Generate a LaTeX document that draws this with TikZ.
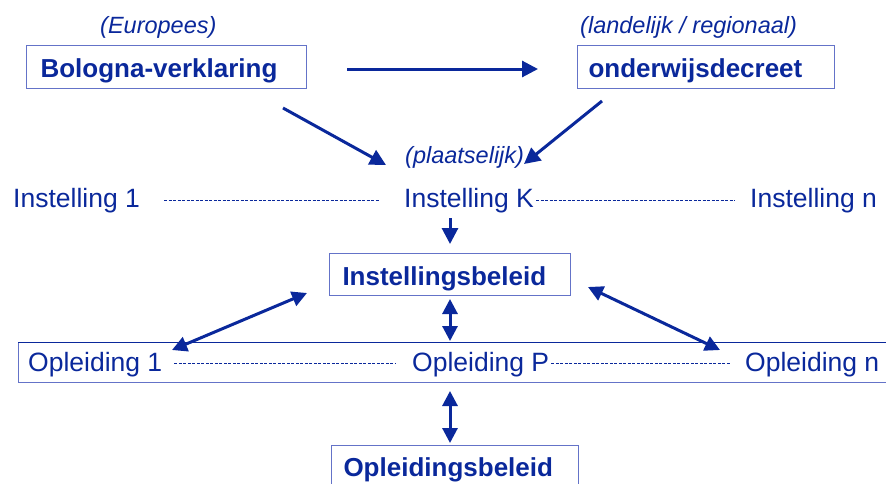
\documentclass[tikz,border=0pt]{standalone}
\usepackage{fontspec}
\setmainfont{Liberation Sans}
\usetikzlibrary{arrows.meta}
\definecolor{dblue}{RGB}{10,40,155}
\definecolor{lblue}{RGB}{100,115,200}
\begin{document}
\begin{tikzpicture}[x=1pt,y=-1pt,
  txt/.style={inner sep=0pt,anchor=base west,text=dblue,font=\fontsize{26.5}{30}\selectfont},
  itxt/.style={inner sep=0pt,anchor=base west,text=dblue,font=\fontsize{23.5}{28}\selectfont\itshape},
  bbox/.style={draw=lblue,line width=1pt,anchor=north west,inner ysep=0pt,align=left,
    text=dblue,font=\fontsize{26}{30}\selectfont\bfseries},
  arr/.style={draw=dblue,line width=3pt,-{Triangle[length=16pt,width=16pt]}},
  darr/.style={draw=dblue,line width=3pt,{Triangle[length=15pt,width=15pt]}-{Triangle[length=15pt,width=15pt]}},
  dots/.style={draw=dblue,line width=0.7pt,dash pattern=on 3pt off 1.5pt}]
\useasboundingbox (0,0) rectangle (886,483);

% top level labels
\node[itxt] (eur) at (100,33) {(Europees)};
\node[itxt] (lan) at (580,33) {(landelijk / regionaal)};
\node[bbox,inner xsep=14pt,text width=252pt,text height=32pt,text depth=11pt] (bol) at (26,45) {Bologna-verklaring};
\node[bbox,inner xsep=11pt,text width=235pt,text height=32pt,text depth=11pt] (dec) at (577,45) {onderwijsdecreet};

% local level
\node[itxt] (pla) at (405,163) {(plaatselijk)};
\node[txt] (i1) at (13,207) {Instelling 1};
\node[txt] (iK) at (404,207) {Instelling K};
\node[txt] (in) at (750,207) {Instelling n};
\node[bbox,inner xsep=13pt,text width=215pt,text height=32pt,text depth=10pt] (ib) at (329,253) {Instellingsbeleid};

% opleidingen row
\node[draw=lblue,line width=1pt,anchor=north west,inner sep=0pt,minimum width=890pt,minimum height=40pt] (row) at (18,342) {};
\draw[dblue,line width=1pt] (row.north west) -- (row.north east);
\node[txt] (o1) at (28,371) {Opleiding 1};
\node[txt] (oP) at (412,371) {Opleiding P};
\node[txt] (on) at (745,371) {Opleiding n};
\node[bbox,inner xsep=12pt,text width=223pt,text height=31pt,text depth=19pt] (ob) at (331,445) {Opleidingsbeleid};

% connector end points
\coordinate (h1) at (347,69);  \coordinate (h2) at (538,69);
\coordinate (l1) at (283,108); \coordinate (l2) at (386,165);
\coordinate (r1) at (602,101); \coordinate (r2) at (524,164);
\coordinate (k1) at (450,218); \coordinate (k2) at (450,244);
\coordinate (a1) at (307,293); \coordinate (a2) at (172,350);
\coordinate (b1) at (588,287); \coordinate (b2) at (720,350);
\coordinate (c1) at (450,299); \coordinate (c2) at (450,341);
\coordinate (d1) at (450,391); \coordinate (d2) at (450,443);

\draw[arr] (h1) -- (h2);
\draw[arr] (l1) -- (l2);
\draw[arr] (r1) -- (r2);
\draw[arr] (k1) -- (k2);
\draw[darr] (a1) -- (a2);
\draw[darr] (b1) -- (b2);
\draw[darr] (c1) -- (c2);
\draw[darr] (d1) -- (d2);

% dashed links
\draw[dots] ([xshift=24pt,yshift=7pt]i1.base east) -- ([xshift=-24pt,yshift=7pt]iK.base west);
\draw[dots] ([xshift=2pt,yshift=7pt]iK.base east) -- ([xshift=-15pt,yshift=7pt]in.base west);
\draw[dots] ([xshift=12pt,yshift=8pt]o1.base east) -- ([xshift=-17pt,yshift=8pt]oP.base west);
\draw[dots] ([xshift=2pt,yshift=8pt]oP.base east) -- ([xshift=-15pt,yshift=8pt]on.base west);
\end{tikzpicture}
\end{document}
